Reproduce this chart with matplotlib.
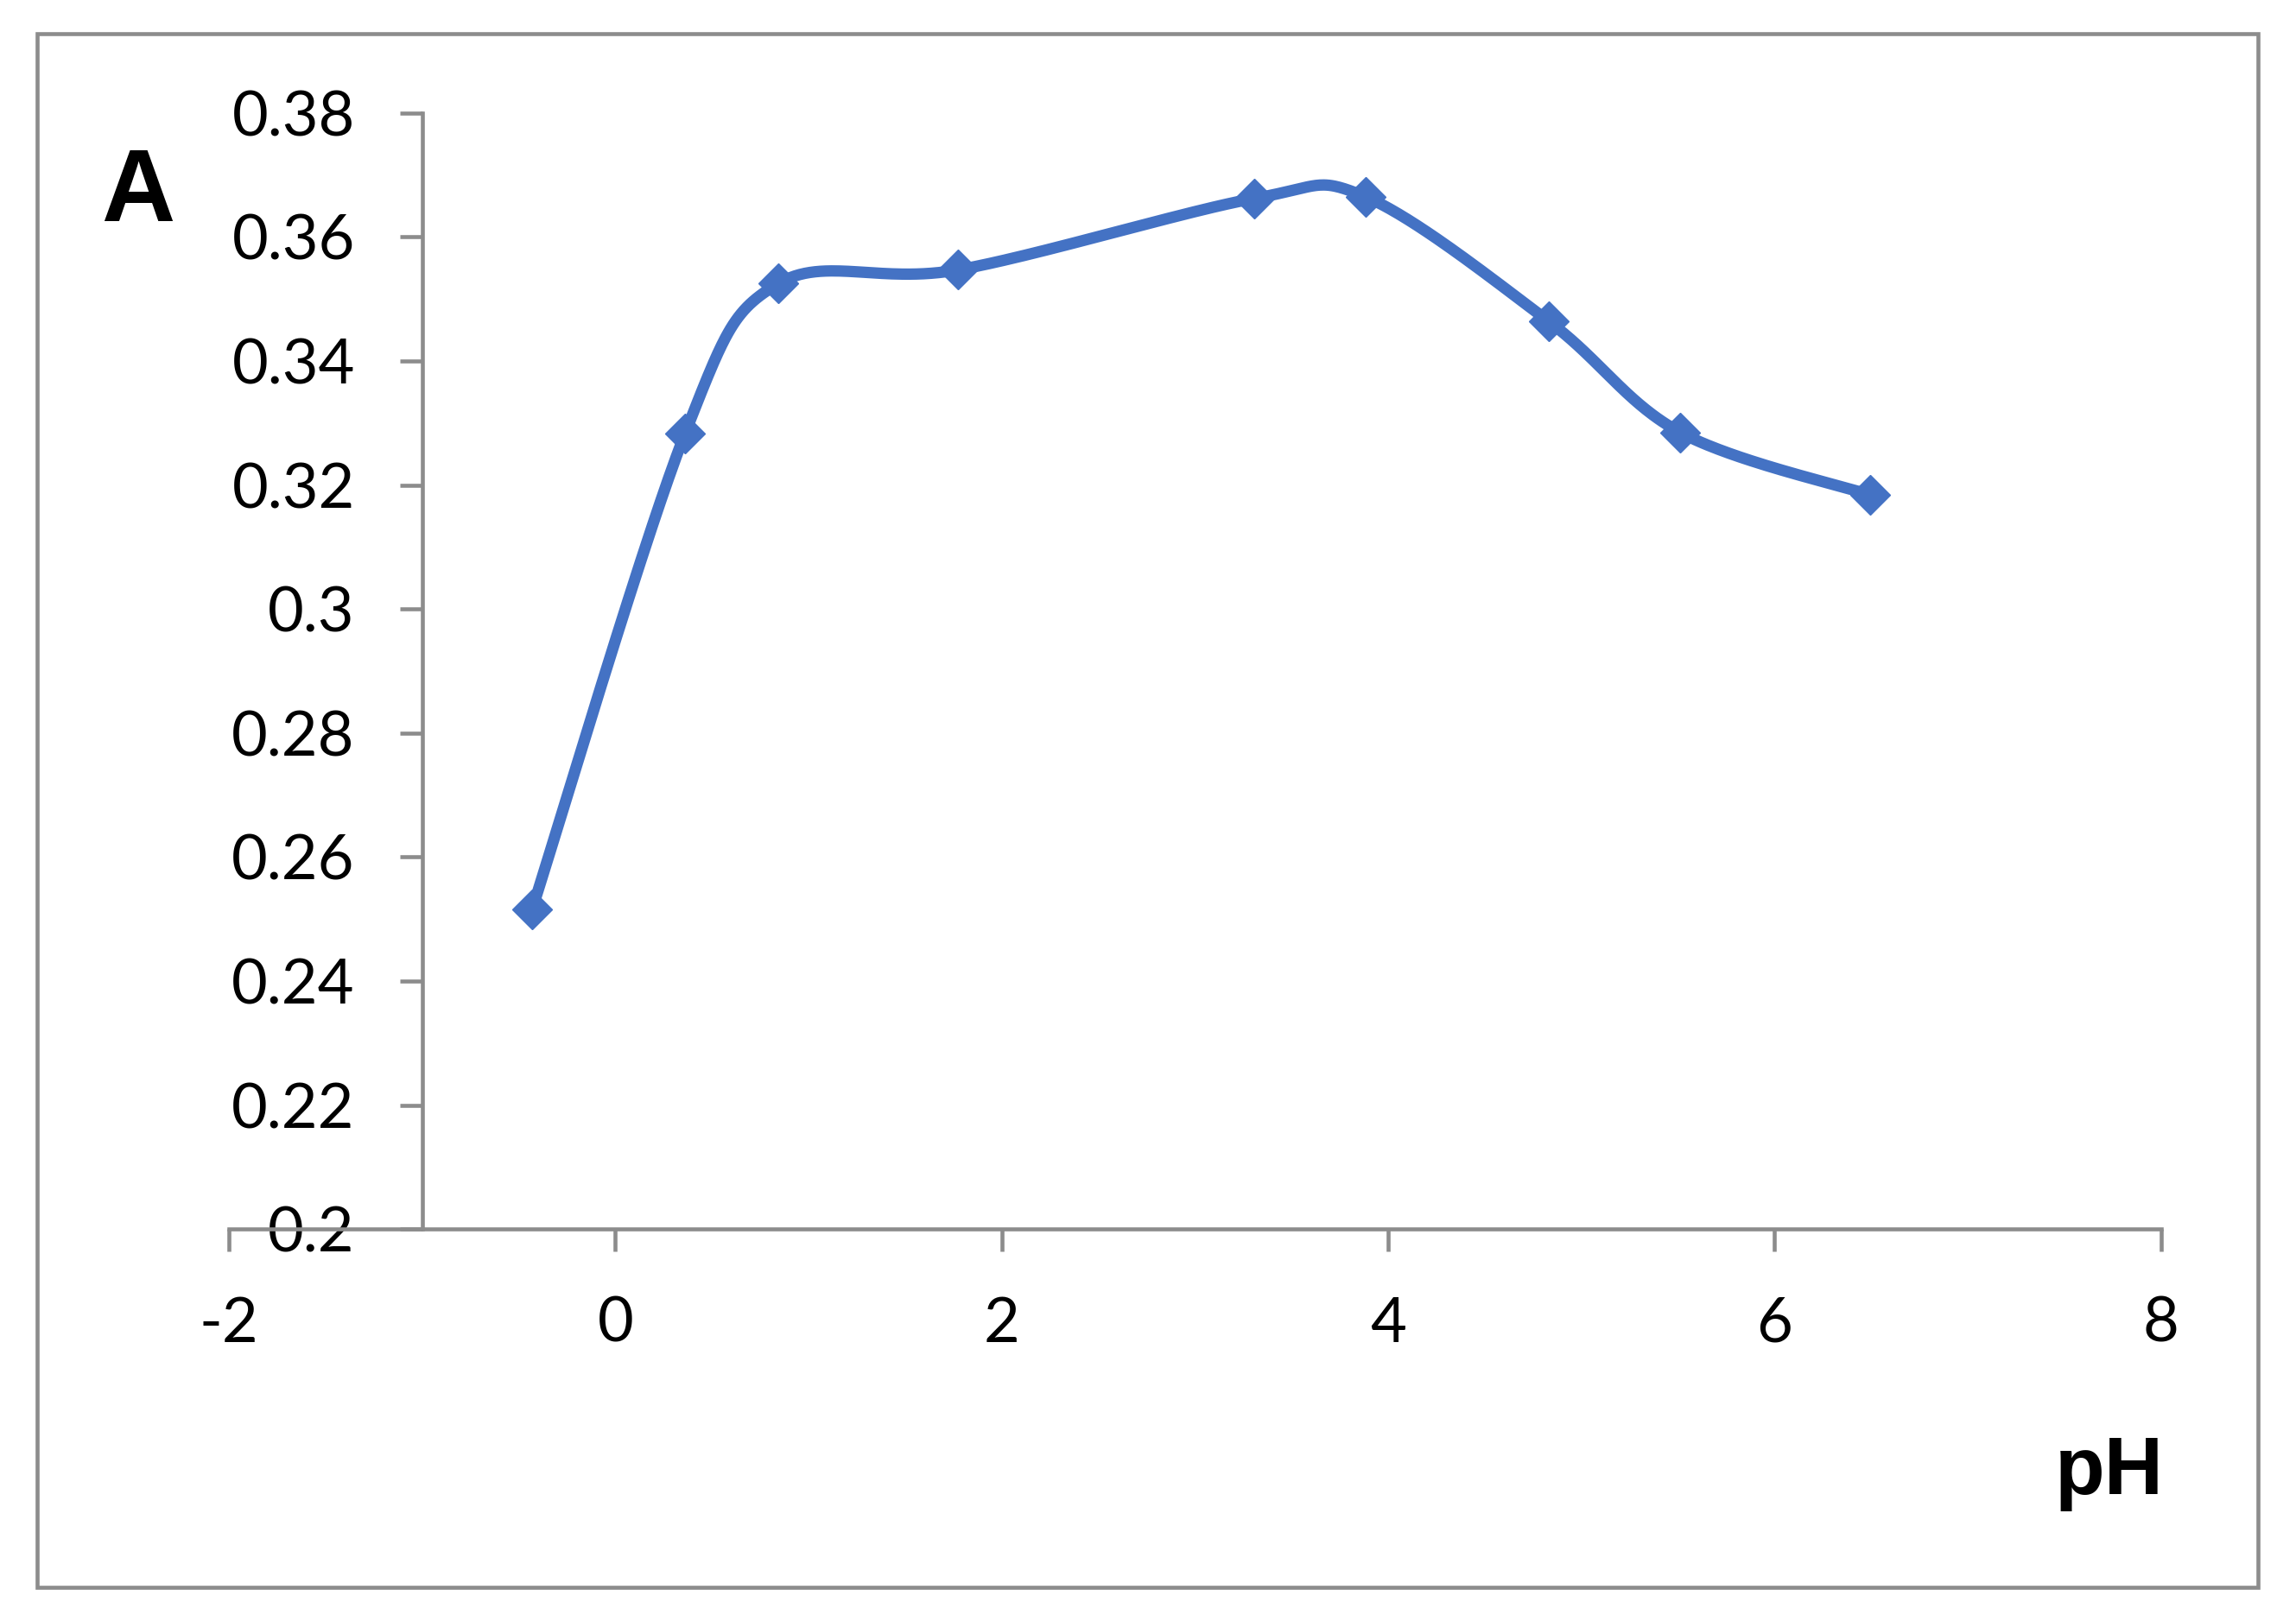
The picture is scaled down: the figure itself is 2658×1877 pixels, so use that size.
import numpy as np
import matplotlib
matplotlib.use('Agg')
import matplotlib.pyplot as plt
from matplotlib.patches import Rectangle
from matplotlib.ticker import FuncFormatter

plt.rcParams['axes.unicode_minus'] = False

# Datos
ph = [-0.43, 0.361, 0.844, 1.775, 3.305, 3.882, 4.831, 5.511, 6.494]
absorb = [0.2516, 0.3283, 0.3525, 0.3547, 0.3662, 0.3665, 0.3464, 0.3285, 0.3184]

x_ticks = [-2, 0, 2, 4, 6, 8]
y_ticks = [0.2, 0.22, 0.24, 0.26, 0.28, 0.3, 0.32, 0.34, 0.36, 0.38]

blue = '#4472C4'
gray = '#8c8c8c'


def smooth(xs, ys, n=60):
    # curva suavizada estilo Excel (Bezier tipo Catmull-Rom)
    p = np.column_stack([xs, ys])
    ext = np.vstack([p[0], p, p[-1]])
    t = np.linspace(0, 1, n)[:, None]
    out = []
    for i in range(len(p) - 1):
        p0, p3 = ext[i + 1], ext[i + 2]
        p1 = p0 + (ext[i + 2] - ext[i]) / 6
        p2 = p3 - (ext[i + 3] - ext[i + 1]) / 6
        seg = ((1 - t) ** 3) * p0 + 3 * ((1 - t) ** 2) * t * p1 + 3 * (1 - t) * t ** 2 * p2 + t ** 3 * p3
        out.append(seg)
    out = np.vstack(out)
    return out[:, 0], out[:, 1]


fig = plt.figure(figsize=(26.58, 18.77), dpi=100)
ax = fig.add_axes([0.09966, 0.24176, 0.84154, 0.68855])

sx, sy = smooth(ph, absorb)
ax.plot(sx, sy, color=blue, lw=9.5, solid_capstyle='round', clip_on=False)
ax.plot(ph, absorb, ls='none', marker='D', ms=23, color=blue, mec=blue, mew=1, clip_on=False)

ax.set_xlim(-2, 8)
ax.set_ylim(0.2, 0.38)
ax.set_xticks(x_ticks)
ax.set_yticks(y_ticks)
ax.xaxis.set_major_formatter(FuncFormatter(lambda v, p: f'{v:g}'))
ax.yaxis.set_major_formatter(FuncFormatter(lambda v, p: f'{v:g}'))

ax.spines['top'].set_visible(False)
ax.spines['right'].set_visible(False)
ax.spines['left'].set_position(('data', -1))
for s in ['left', 'bottom']:
    ax.spines[s].set_color(gray)
    ax.spines[s].set_linewidth(3.3)

ax.tick_params(axis='both', direction='out', length=19, width=3.3, color=gray,
               labelsize=52, pad=37)
for lab in ax.get_xticklabels() + ax.get_yticklabels():
    lab.set_family('Lato')

fig.text(0.0440, 0.86372, 'A', fontsize=85, fontweight='bold',
         family=['Liberation Sans Narrow', 'Liberation Sans'], ha='left', va='baseline')
fig.text(0.9424, 0.0783, 'pH', fontsize=68, fontweight='bold',
         family=['Liberation Sans Narrow', 'Liberation Sans'], ha='right', va='baseline')

fig.patches.append(Rectangle((0.01618, 0.02078), 0.96727, 0.95844, transform=fig.transFigure,
                             fill=False, edgecolor=gray, lw=3.3))

fig.savefig('out.png', dpi=100, facecolor='white')
